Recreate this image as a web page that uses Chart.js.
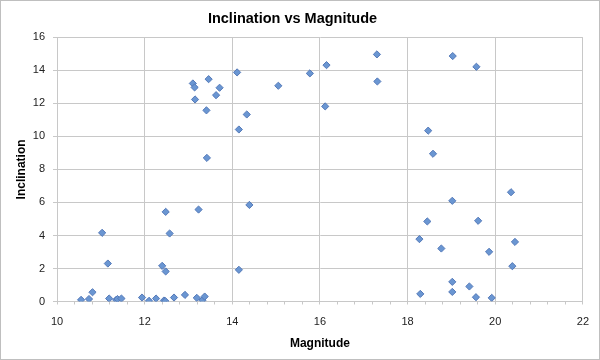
<!DOCTYPE html>
<html>
<head>
<meta charset="utf-8">
<script src="https://cdn.jsdelivr.net/npm/chart.js@4/dist/chart.umd.min.js"></script>
<style>
  html, body { margin: 0; padding: 0; background: #ffffff; }
  #wrap { width: 600px; height: 360px; position: relative; }
</style>
</head>
<body>
<div id="wrap"><canvas id="c" width="600" height="360"></canvas></div>
<script>
const chartTitle = 'Inclination vs Magnitude';
const xTitle = 'Magnitude';
const yTitle = 'Inclination';
const xTickValues = [10, 12, 14, 16, 18, 20, 22];
const yTickValues = [0, 2, 4, 6, 8, 10, 12, 14, 16];

const magnitude = [
  10.55, 10.73, 10.81, 11.03, 11.16, 11.19, 11.35, 11.38, 11.47, 11.94,
  12.10, 12.26, 12.40, 12.48, 12.48, 12.57, 12.44, 12.47, 12.67, 12.92,
  13.19, 13.23, 13.32, 13.37, 13.10, 13.14, 13.15, 13.46, 13.63, 13.71,
  13.41, 13.42, 14.11, 14.15, 14.33, 14.15, 14.39, 15.05, 15.77, 16.15,
  16.12, 17.30, 17.31, 18.47, 18.58, 19.03, 19.57, 20.36, 19.02, 18.45,
  19.61, 18.27, 20.45, 18.77, 19.86, 20.39, 19.02, 19.41, 18.29, 19.02,
  19.56, 19.92
];
const inclination = [
  0.10, 0.15, 0.56, 4.16, 2.30, 0.18, 0.10, 0.15, 0.18, 0.24,
  0.04, 0.18, 2.16, 1.82, 5.43, 4.12, 0.06, 0.03, 0.24, 0.40,
  0.22, 5.57, 0.08, 0.30, 13.21, 12.97, 12.24, 13.47, 12.50, 12.95,
  11.58, 8.70, 13.88, 10.42, 11.33, 1.92, 5.85, 13.07, 13.82, 14.32,
  11.82, 14.97, 13.33, 10.35, 8.95, 14.87, 14.22, 6.62, 6.10, 4.85,
  4.89, 3.78, 3.61, 3.21, 3.01, 2.14, 1.19, 0.91, 0.46, 0.58,
  0.26, 0.22
];

const points = magnitude.map((m, i) => ({ x: m, y: inclination[i] }));

const gridCol = '#c8c8c8';
const isMajorX = v => xTickValues.some(t => Math.abs(t - v) < 1e-6);

const borderPlugin = {
  id: 'outerBorder',
  afterDraw(chart) {
    const ctx = chart.ctx;
    ctx.save();
    ctx.strokeStyle = '#bfbfbf';
    ctx.lineWidth = 1;
    ctx.strokeRect(0.5, 0.5, chart.width - 1, chart.height - 1);
    ctx.restore();
  }
};

new Chart(document.getElementById('c'), {
  type: 'scatter',
  data: {
    datasets: [{
      label: yTitle,
      data: points,
      pointStyle: 'rectRot',
      pointRadius: 3.6,
      pointHoverRadius: 3.6,
      backgroundColor: '#6a96d2',
      borderColor: '#5479b8',
      borderWidth: 1
    }]
  },
  plugins: [borderPlugin],
  options: {
    responsive: false,
    animation: false,
    devicePixelRatio: 1,
    layout: { padding: { left: 0, right: 15, top: 0, bottom: 0 } },
    plugins: {
      legend: { display: false },
      tooltip: { enabled: false },
      title: {
        display: true,
        text: chartTitle,
        color: '#000000',
        font: { family: 'Liberation Sans, Arial, sans-serif', size: 14.5, weight: 'bold' },
        padding: { top: 10, bottom: 10 }
      }
    },
    scales: {
      x: {
        type: 'linear',
        min: xTickValues[0],
        max: xTickValues[xTickValues.length - 1],
        afterFit(scale) { scale.height = 58.5; },
        afterBuildTicks(scale) {
          const t = [];
          for (let i = 0; i <= 30; i++) t.push({ value: Math.round((10 + i * 0.4) * 10) / 10 });
          scale.ticks = t;
        },
        ticks: {
          autoSkip: false,
          maxRotation: 0,
          padding: 11,
          color: '#222222',
          font: { family: 'Liberation Sans, Arial, sans-serif', size: 11 },
          callback: v => isMajorX(v) ? String(Math.round(v)) : ''
        },
        grid: {
          color: ctx => (ctx.tick && isMajorX(ctx.tick.value)) ? gridCol : 'rgba(0,0,0,0)',
          tickColor: gridCol,
          tickLength: 3,
          drawTicks: true
        },
        border: { color: gridCol },
        title: {
          display: true,
          text: xTitle,
          color: '#000000',
          font: { family: 'Liberation Sans, Arial, sans-serif', size: 12, weight: 'bold' },
          padding: { top: 4, bottom: 9.5 }
        }
      },
      y: {
        type: 'linear',
        min: yTickValues[0],
        max: yTickValues[yTickValues.length - 1],
        afterFit(scale) { scale.width = 57; },
        afterBuildTicks(scale) {
          scale.ticks = yTickValues.map(v => ({ value: v }));
        },
        ticks: {
          padding: 8,
          color: '#222222',
          font: { family: 'Liberation Sans, Arial, sans-serif', size: 11 }
        },
        grid: {
          color: gridCol,
          tickColor: gridCol,
          tickLength: 4
        },
        border: { color: gridCol },
        title: {
          display: true,
          text: yTitle,
          color: '#000000',
          font: { family: 'Liberation Sans, Arial, sans-serif', size: 12, weight: 'bold' },
          padding: { top: 14, bottom: 4 }
        }
      }
    }
  }
});
</script>
</body>
</html>
